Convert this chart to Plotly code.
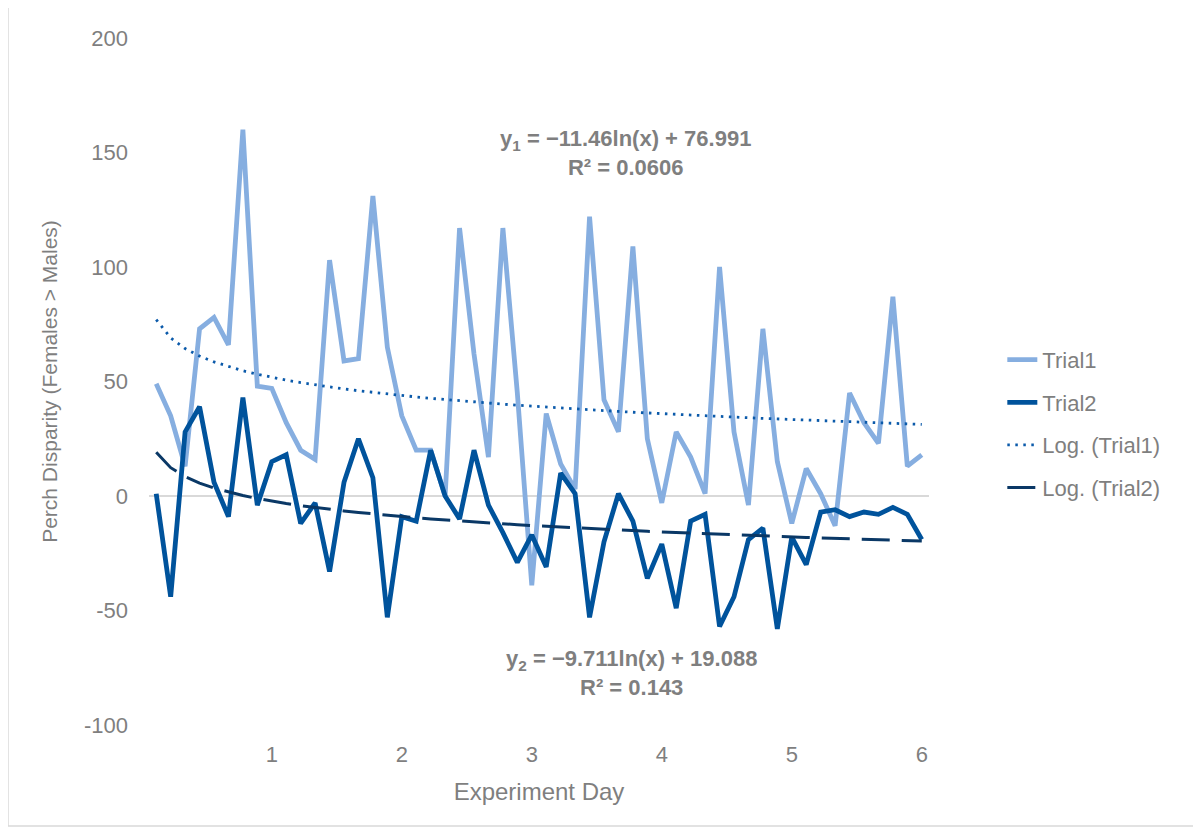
import numpy as np
import plotly.graph_objects as go

# ---- data ----
obs_per_day = 9
day_ticks = [1, 2, 3, 4, 5, 6]
y_ticks = [-100, -50, 0, 50, 100, 150, 200]

trial1 = [49, 35, 13, 73, 78, 66, 160, 48, 47, 32, 20, 16, 103, 59, 60, 131, 65, 35,
          20, 20, 0, 117, 62, 17, 117, 45, -39, 36, 14, 3, 122, 42, 28, 109, 25, -3,
          28, 17, 1, 100, 28, -4, 73, 15, -12, 12, 1, -13, 45, 32, 23, 87, 13, 18]
trial2 = [1, -44, 28, 39, 6, -9, 43, -4, 15, 18, -12, -3, -33, 6, 25, 8, -53, -9,
          -11, 20, 0, -10, 20, -4, -16, -29, -17, -31, 10, 1, -53, -20, 1, -11, -36, -21,
          -49, -11, -8, -57, -44, -19, -14, -58, -18, -30, -7, -6, -9, -7, -8, -5, -8, -19]

# logarithmic trendline coefficients (shown on the chart)
trend1_a, trend1_b = -11.46, 76.991
trend2_a, trend2_b = -9.711, 19.088

idx = np.arange(1, len(trial1) + 1)
days = idx / obs_per_day
log1 = trend1_a * np.log(idx) + trend1_b
log2 = trend2_a * np.log(idx) + trend2_b

FONT = "Liberation Sans, Arial, sans-serif"
GREY = "#7f7f7f"

fig = go.Figure()
fig.add_trace(go.Scatter(x=days, y=trial1, mode="lines", name="Trial1", legendgroup="a",
                         line=dict(color="#86AEE0", width=4.8)))
fig.add_trace(go.Scatter(x=days, y=trial2, mode="lines", name="Trial2", legendgroup="b",
                         line=dict(color="#00539C", width=4.8)))
fig.add_trace(go.Scatter(x=days, y=log1, mode="lines", name="Log. (Trial1)", legendgroup="c",
                         line=dict(color="#0B5AAA", width=2.8, dash="2.5px,5.5px")))
fig.add_trace(go.Scatter(x=days, y=log2, mode="lines", name="Log. (Trial2)", legendgroup="d",
                         line=dict(color="#0A3866", width=3, dash="28px,12px")))

fig.update_layout(
    width=1193, height=824,
    margin=dict(l=141, r=272, t=30, b=107, autoexpand=False),
    paper_bgcolor="white", plot_bgcolor="white",
    font=dict(family=FONT, color=GREY, size=21),
    showlegend=True,
    legend=dict(x=1.094, y=0.562, xanchor="left", yanchor="top",
                font=dict(size=22, color=GREY), tracegroupgap=11,
                bgcolor="rgba(0,0,0,0)"),
    xaxis=dict(range=[0.5 / obs_per_day, day_ticks[-1] + 0.5 / obs_per_day],
               tickmode="array", tickvals=day_ticks, ticktext=[str(d) for d in day_ticks],
               showgrid=False, zeroline=False, showline=False, ticks="",
               tickfont=dict(size=22, color=GREY), ticklabelstandoff=14,
               title=dict(text="Experiment Day", font=dict(size=24, color=GREY), standoff=17),
               automargin=False),
    yaxis=dict(range=[-100, 200], tickmode="array", tickvals=y_ticks,
               ticktext=[str(v) for v in y_ticks],
               showgrid=False, zeroline=True, zerolinecolor="#d9d9d9", zerolinewidth=1.5,
               showline=False, ticks="",
               tickfont=dict(size=22, color=GREY), ticklabelstandoff=20,
               title=dict(text="Perch Disparity (Females > Males)",
                          font=dict(size=21, color=GREY), standoff=20),
               automargin=False),
    annotations=[
        dict(xref="paper", yref="paper", x=0.6115, y=0.8326, xanchor="center", yanchor="middle",
             showarrow=False, align="center",
             text="<b>y<sub>1</sub> = \u221211.46ln(x) + 76.991</b><br><b>R\u00b2 = 0.0606</b>",
             font=dict(size=22, color=GREY, family=FONT)),
        dict(xref="paper", yref="paper", x=0.618, y=0.0757, xanchor="center", yanchor="middle",
             showarrow=False, align="center",
             text="<b>y<sub>2</sub> = \u22129.711ln(x) + 19.088</b><br><b>R\u00b2 = 0.143</b>",
             font=dict(size=22, color=GREY, family=FONT)),
    ],
    shapes=[dict(type="rect", xref="paper", yref="paper",
                 x0=-0.1808, x1=1.3397, y0=-0.147, y1=1.0451,
                 line=dict(color="#d9d9d9", width=1.5), fillcolor="rgba(0,0,0,0)", layer="below")],
)

fig.write_html("out.html")
